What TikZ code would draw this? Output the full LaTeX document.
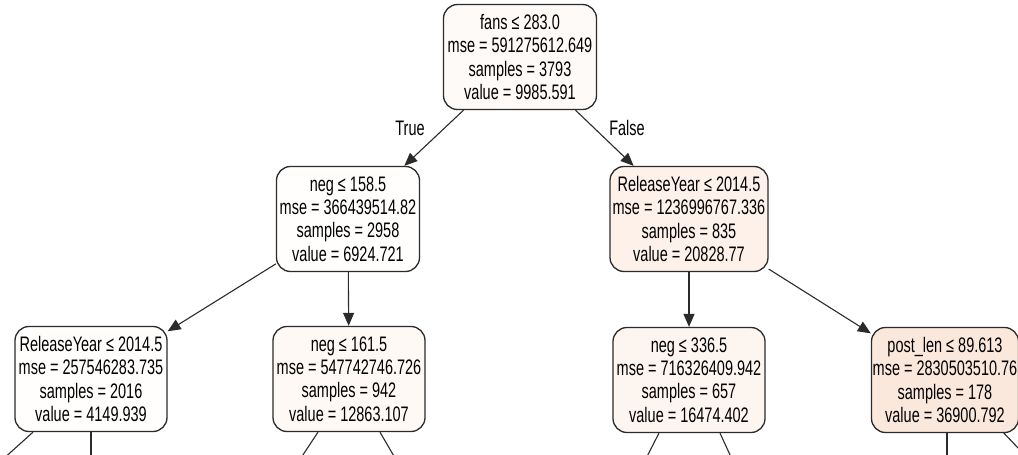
\documentclass[tikz,border=0pt]{standalone}
\usepackage{fontspec}
\setmainfont{Liberation Sans}[FakeStretch=0.69]
\usetikzlibrary{arrows.meta,calc}
\definecolor{c0}{HTML}{FEFAF7}
\definecolor{c1}{HTML}{FFFEFD}
\definecolor{c2}{HTML}{FDF1EA}
\definecolor{c3}{HTML}{FFFEFD}
\definecolor{c4}{HTML}{FEF9F5}
\definecolor{c5}{HTML}{FDF5F0}
\definecolor{c6}{HTML}{FBE8DD}
\definecolor{edgec}{HTML}{2B2B2B}
\tikzset{
  tbox/.style={draw=edgec, line width=1.3pt, rounded corners=14pt, align=center,
    minimum height=105pt, inner sep=0pt, text=black,
    font=\fontsize{21}{23.3}\selectfont},
  arr/.style={draw=edgec, line width=1.1pt, -{Triangle[length=13pt,width=11pt]}},
  ln/.style={draw=edgec, line width=1.1pt},
  lbl/.style={font=\fontsize{21}{23.3}\selectfont, text=black}
}
\begin{document}
\begin{tikzpicture}[x=1pt,y=-1pt]
\useasboundingbox (0,0) rectangle (1018,455);
\clip (0,0) rectangle (1018,455);
\fill[white] (0,0) rectangle (1018,455);

\node[tbox, fill=c0, minimum width=153pt] (root) at (520,57)
  {fans ≤ 283.0\\mse = 591275612.649\\samples = 3793\\value = 9985.591};
\node[tbox, fill=c1, minimum width=143pt] (n1) at (348,219)
  {neg ≤ 158.5\\mse = 366439514.82\\samples = 2958\\value = 6924.721};
\node[tbox, fill=c2, minimum width=158pt] (n2) at (689,219)
  {ReleaseYear ≤ 2014.5\\mse = 1236996767.336\\samples = 835\\value = 20828.77};
\node[tbox, fill=c3, minimum width=152pt] (a) at (91,379)
  {ReleaseYear ≤ 2014.5\\mse = 257546283.735\\samples = 2016\\value = 4149.939};
\node[tbox, fill=c4, minimum width=152pt] (b) at (349,379)
  {neg ≤ 161.5\\mse = 547742746.726\\samples = 942\\value = 12863.107};
\node[tbox, fill=c5, minimum width=152pt] (c) at (689,380)
  {neg ≤ 336.5\\mse = 716326409.942\\samples = 657\\value = 16474.402};
\node[tbox, fill=c6, minimum width=147pt] (d) at (945,380)
  {post\_len ≤ 89.613\\mse = 2830503510.76\\samples = 178\\value = 36900.792};

\draw[arr] (root) -- (n1);
\draw[arr] (root) -- (n2);
\draw[arr] (n1) -- (a);
\draw[arr] (n1) -- (b);
\draw[arr] (n2) -- (c);
\draw[arr] (n2) -- (d);

\node[lbl] (t) at (410,128) {True};
\node[lbl] (f) at (627,128) {False};

\coordinate (a1) at (-9,470);
\coordinate (a2) at (91,470);
\coordinate (b1) at (293,470);
\coordinate (b2) at (402,470);
\coordinate (c1) at (640,470);
\coordinate (c2) at (737,470);
\coordinate (d1) at (947,470);
\coordinate (d2) at (1039,470);

\draw[ln] ($(a.south)+(-58,0)$) -- (a1);
\draw[ln] (a.south) -- (a2);
\draw[ln] ($(b.south)+(-31,0)$) -- (b1);
\draw[ln] ($(b.south)+(31,0)$) -- (b2);
\draw[ln] ($(c.south)+(-30,0)$) -- (c1);
\draw[ln] ($(c.south)+(31,0)$) -- (c2);
\draw[ln] ($(d.south)+(2,0)$) -- (d1);
\draw[ln] ($(d.south)+(58,-1)$) -- (d2);
\end{tikzpicture}
\end{document}
